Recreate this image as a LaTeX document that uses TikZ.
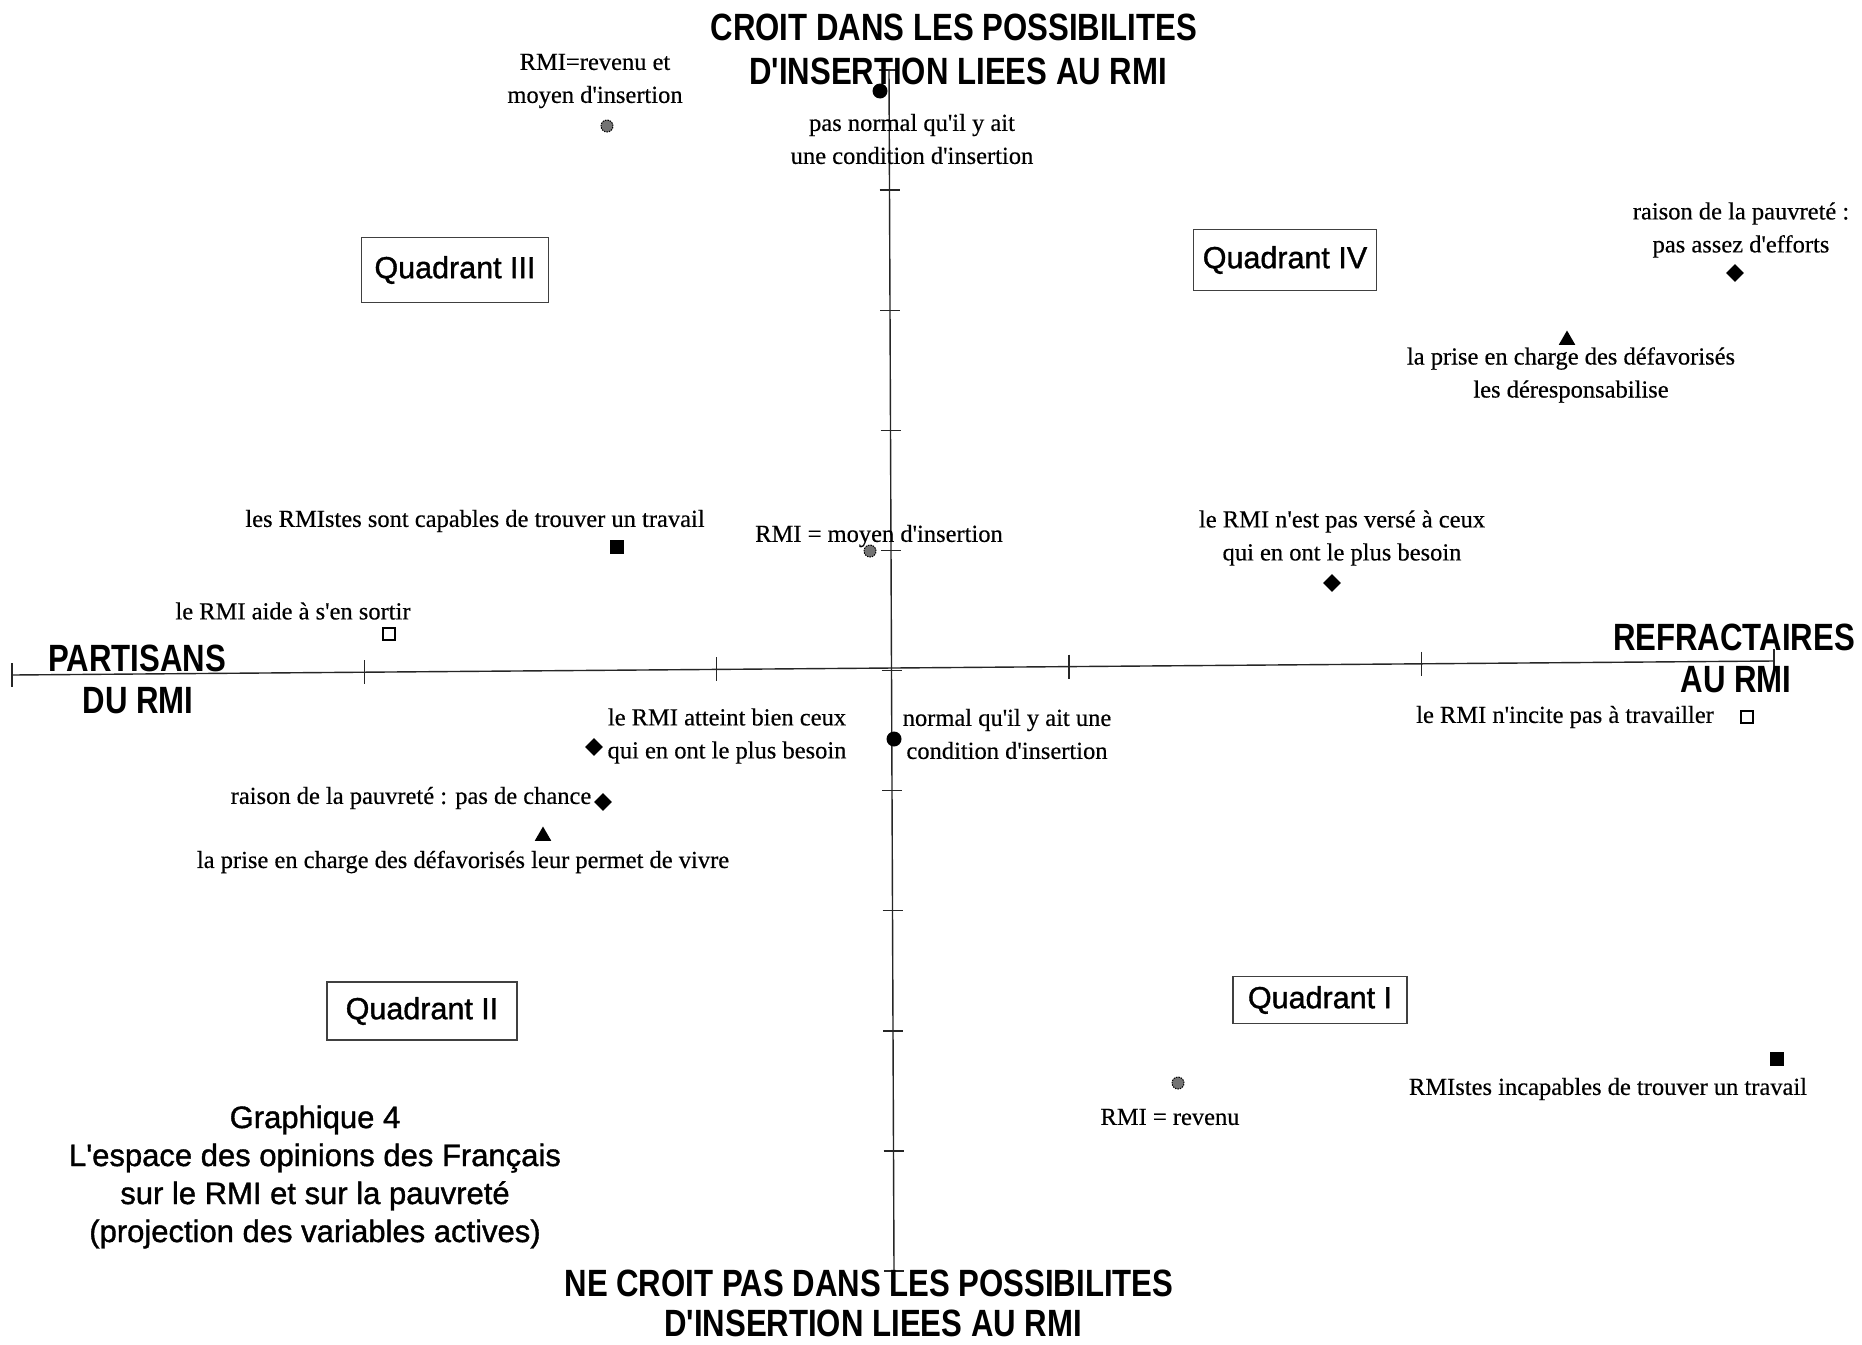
\documentclass[tikz,border=0pt]{standalone}
\usepackage{graphicx}
\usepackage{fontspec}
\setmainfont{Liberation Serif}[FakeBold=0.4]
\newfontfamily\sansf{Liberation Sans}
\newfontfamily\sansm{Liberation Sans}[FakeBold=1.2]
\usetikzlibrary{shapes.geometric,calc}
\newcommand\narrowtxt[1]{\scalebox{0.82}[1]{#1}}
\newcommand\ap{\textquotesingle}
\begin{document}
\begin{tikzpicture}[x=1pt,y=-1pt,
  axisline/.style={line width=1.4pt, black!85},
  lbl/.style={font=\fontsize{24.5}{33}\selectfont, align=center, inner sep=0pt},
  ttl/.style={font=\sansf\bfseries\fontsize{38}{44}\selectfont, inner sep=0pt},
  captxt/.style={font=\sansm\fontsize{31}{38}\selectfont, align=center, inner sep=0pt},
  quad/.style={draw=black!75, line width=1.3pt, font=\sansm\fontsize{30.5}{36}\selectfont, inner sep=0pt},
  dotm/.style={circle, fill=black, inner sep=0pt, minimum size=15pt},
  diam/.style={diamond, fill=black, inner sep=0pt, minimum size=18pt},
  trim/.style={regular polygon, regular polygon sides=3, fill=black, inner sep=0pt, minimum size=19pt},
  sqf/.style={rectangle, fill=black, inner sep=0pt, minimum size=14pt},
  sqo/.style={rectangle, draw=black, line width=1.8pt, inner sep=0pt, minimum size=12pt},
  hatchm/.style={circle, fill=black!55, draw=black, line width=1pt, dash pattern=on 1.5pt off 1pt, inner sep=0pt, minimum size=12pt}
]
\fill[white] (0,0) rectangle (1862,1344);
\useasboundingbox (0,0) rectangle (1862,1344);

% axes
\coordinate (hL) at (12,675);
\coordinate (hR) at (1774,661);
\coordinate (vT) at (889,70);
\coordinate (vB) at (894,1271);
\draw[axisline] (hL) -- (hR);
\draw[axisline] (vT) -- (vB);
\foreach \k in {0,...,5} \draw[axisline] ($(hL)!\k/5!(hR)$) ++(0,-12) -- ++(0,24);
\foreach \k in {0,...,10} \draw[axisline] ($(vT)!\k/10!(vB)$) ++(-10,0) -- ++(20,0);

% titles
\node[ttl] (t1a) at (954,27) {\narrowtxt{CROIT DANS LES POSSIBILITES}};
\node[ttl] (t1b) at (958,71) {\narrowtxt{D\ap INSERTION LIEES AU RMI}};
\node[ttl] (t2a) at (869,1283) {\narrowtxt{NE CROIT PAS DANS LES POSSIBILITES}};
\node[ttl] (t2b) at (873,1323) {\narrowtxt{D\ap INSERTION LIEES AU RMI}};
\node[ttl] (l1a) at (137,658) {\narrowtxt{PARTISANS}};
\node[ttl] (l1b) at (138,701) {\narrowtxt{DU RMI}};
\node[ttl] (r1a) at (1734,637) {\narrowtxt{REFRACTAIRES}};
\node[ttl] (r1b) at (1736,680) {\narrowtxt{AU RMI}};

% quadrants
\node[quad, minimum width=187pt, minimum height=65pt] (q3) at (455,270) {Quadrant III};
\node[quad, minimum width=183pt, minimum height=61pt] (q4) at (1285,260) {Quadrant IV};
\node[quad, minimum width=190pt, minimum height=58pt] (q2) at (422,1011) {Quadrant II};
\node[quad, minimum width=174pt, minimum height=47pt] (q1) at (1320,1000) {Quadrant I};

% caption
\node[captxt] (caption) at (315,1177) {Graphique 4\\L\ap espace des opinions des Français\\sur le RMI et sur la pauvreté\\(projection des variables actives)};

% points and labels
\node[lbl] (a1) at (595,81) {RMI=revenu et\\moyen d\ap insertion};
\node[hatchm] (m1) at (607,126) {};

\node[dotm] (m2) at (880,91) {};
\node[lbl] (a2) at (912,139) {pas normal qu\ap il y ait\\une condition d\ap insertion};

\node[lbl] (a3) at (1741,230) {raison de la pauvreté :\\pas assez d\ap efforts};
\node[diam] (m3) at (1735,273) {};

\node[trim] (m4) at (1567,340) {};
\node[lbl] (a4) at (1571,375) {la prise en charge des défavorisés\\les déresponsabilise};

\node[lbl] (a5) at (475,521) {les RMIstes sont capables de trouver un travail};
\node[sqf] (m5) at (617,547) {};

\node[lbl] (a6) at (879,536) {RMI = moyen d\ap insertion};
\node[hatchm] (m6) at (870,551) {};

\node[lbl] (a7) at (1342,538) {le RMI n\ap est pas versé à ceux\\qui en ont le plus besoin};
\node[diam] (m7) at (1332,583) {};

\node[lbl] (a8) at (293,611) {le RMI aide à s\ap en sortir};
\node[sqo] (m8) at (389,634) {};

\node[lbl] (a9) at (1565,717) {le RMI n\ap incite pas à travailler};
\node[sqo] (m9) at (1747,717) {};

\node[lbl] (a10) at (727,736) {le RMI atteint bien ceux\\qui en ont le plus besoin};
\node[diam] (m10) at (594,747) {};

\node[dotm] (m11) at (894,739) {};
\node[lbl] (a11) at (1007,734) {normal qu\ap il y ait une\\condition d\ap insertion};

\node[lbl] (a12) at (411,798) {raison de la pauvreté : pas de chance};
\node[diam] (m12) at (603,802) {};

\node[trim] (m13) at (543,836) {};
\node[lbl] (a13) at (463,862) {la prise en charge des défavorisés leur permet de vivre};

\node[sqf] (m14) at (1777,1059) {};
\node[lbl] (a14) at (1608,1089) {RMIstes incapables de trouver un travail};

\node[hatchm] (m15) at (1178,1083) {};
\node[lbl] (a15) at (1170,1117) {RMI = revenu};
\end{tikzpicture}
\end{document}
